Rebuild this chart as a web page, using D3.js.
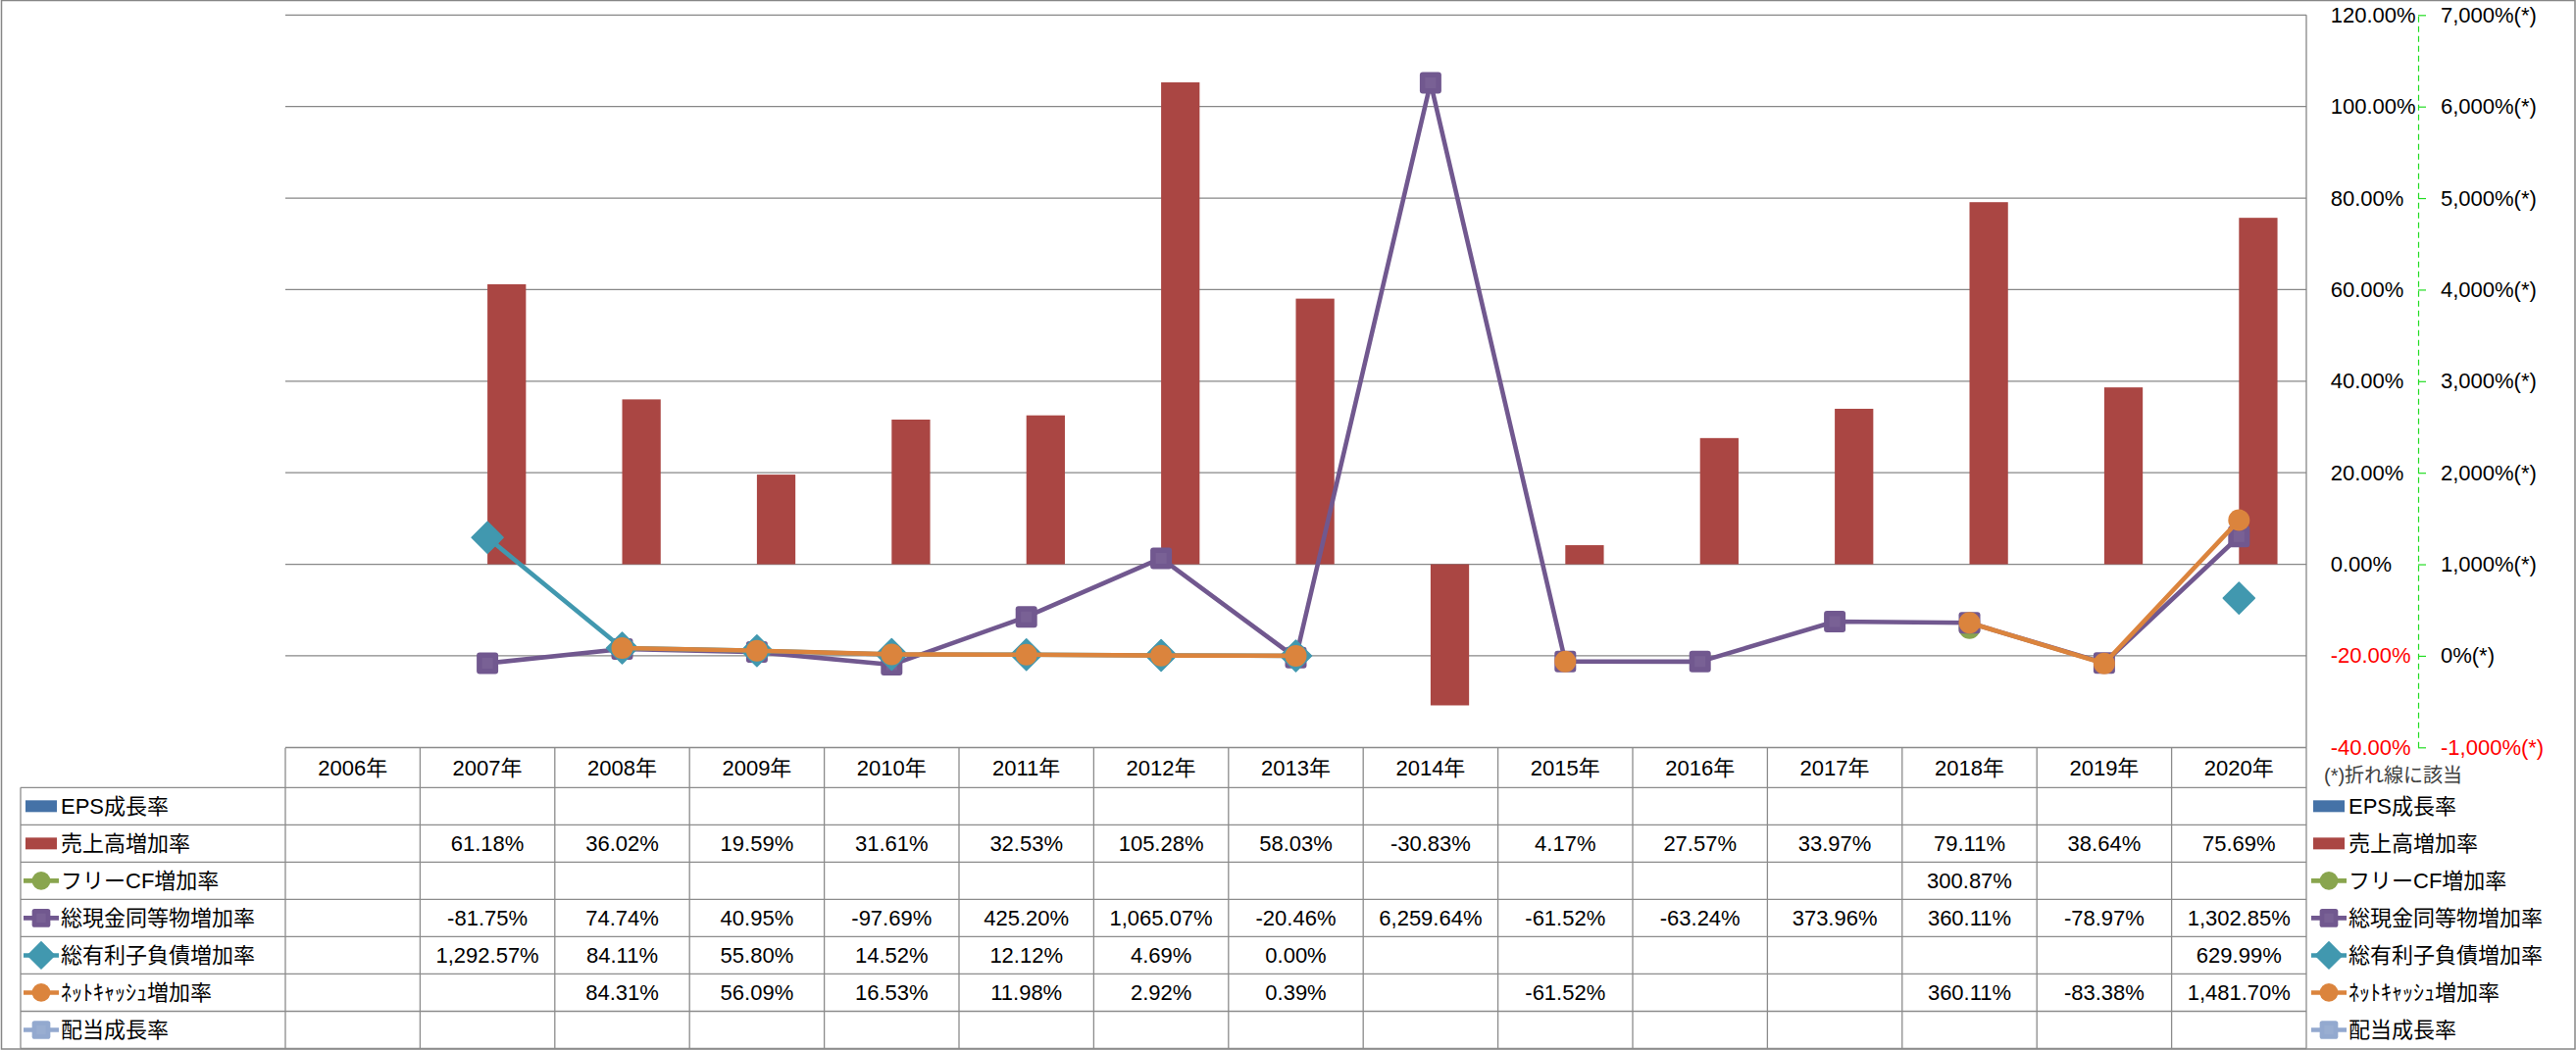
<!DOCTYPE html>
<html><head><meta charset="utf-8">
<script src="https://cdn.jsdelivr.net/npm/d3@7"></script>
<style>
html,body{margin:0;padding:0;background:#fff;}
text{font-family:"Liberation Sans","Noto Sans CJK JP",sans-serif;}
</style></head>
<body><svg id="c" width="2627" height="1071"></svg>
<script>
// ---- data ----
const years = ["2006年","2007年","2008年","2009年","2010年","2011年","2012年","2013年","2014年","2015年","2016年","2017年","2018年","2019年","2020年"];
const seriesNames = ["EPS成長率","売上高増加率","フリーCF増加率","総現金同等物増加率","総有利子負債増加率","ﾈｯﾄｷｬｯｼｭ増加率","配当成長率"];
const seriesColors = ["#4572A7","#AA4643","#89A54E","#71588F","#4198AF","#DB843D","#93A9CF"];
const seriesTypes = ["bar","bar","circle","square","diamond","circle","square"];
const epsGrowth      = [null,null,null,null,null,null,null,null,null,null,null,null,null,null,null];
const salesGrowth    = [null,61.18,36.02,19.59,31.61,32.53,105.28,58.03,-30.83,4.17,27.57,33.97,79.11,38.64,75.69];
const fcfGrowth      = [null,null,null,null,null,null,null,null,null,null,null,null,300.87,null,null];
const cashGrowth     = [null,-81.75,74.74,40.95,-97.69,425.20,1065.07,-20.46,6259.64,-61.52,-63.24,373.96,360.11,-78.97,1302.85];
const debtGrowth     = [null,1292.57,84.11,55.80,14.52,12.12,4.69,0.00,null,null,null,null,null,null,629.99];
const netCashGrowth  = [null,null,84.31,56.09,16.53,11.98,2.92,0.39,null,-61.52,null,null,360.11,-83.38,1481.70];
const dividendGrowth = [null,null,null,null,null,null,null,null,null,null,null,null,null,null,null];
const seriesValues = [epsGrowth,salesGrowth,fcfGrowth,cashGrowth,debtGrowth,netCashGrowth,dividendGrowth];
const leftTicks = [-40,-20,0,20,40,60,80,100,120];
const rightTicks = [-1000,0,1000,2000,3000,4000,5000,6000,7000];
const footnote = "(*)折れ線に該当";

// ---- layout ----
const svg = d3.select("#c");
const plotL = 291, plotR = 2352, yTop = 15.3, yBot = 762.3;
const headTop = 762.7, rowTop = 803.3, rowH = 38.03;
const x = d3.scaleBand().domain(years).range([plotL, plotR]).paddingInner(0).paddingOuter(0);
const bw = x.bandwidth();
const xs = d3.scaleBand().domain(["EPS成長率","売上高増加率"]).range([0, bw]).paddingInner(0).paddingOuter(0.75);
const y = d3.scaleLinear().domain([-40,120]).range([yBot, yTop]);
const y2 = d3.scaleLinear().domain([-1000,7000]).range([yBot, yTop]);
const gridColor = "#878787";
const hyph = s => s.replace(/\u2212/g,"-");
const fmtCell = v => hyph(d3.format(",.2f")(v)) + "%";

// outer frame
svg.append("rect").attr("x",1.5).attr("y",0.5).attr("width",2624.5).attr("height",1069.5)
  .attr("fill","none").attr("stroke",gridColor).attr("stroke-width",1.5);

// gridlines
svg.append("g").selectAll("line").data(leftTicks).join("line")
  .attr("x1",plotL).attr("x2",plotR).attr("y1",d=>y(d)).attr("y2",d=>y(d))
  .attr("stroke",gridColor).attr("stroke-width",1.3);
svg.append("line").attr("x1",plotR).attr("x2",plotR).attr("y1",yTop).attr("y2",yBot)
  .attr("stroke",gridColor).attr("stroke-width",1.3);

// bars
[0,1].forEach(si=>{
  svg.append("g").selectAll("rect")
    .data(years.map((yr,i)=>({yr,v:seriesValues[si][i]})).filter(d=>d.v!=null))
    .join("rect")
    .attr("x",d=>x(d.yr)+xs(seriesNames[si]))
    .attr("width",xs.bandwidth())
    .attr("y",d=>y(Math.max(0,d.v)))
    .attr("height",d=>Math.abs(y(d.v)-y(0)))
    .attr("fill",seriesColors[si]);
});

// markers
function drawMarker(g, type, cx, cy, color, scale=1){
  if(type==="circle"){
    g.append("circle").attr("cx",cx).attr("cy",cy).attr("r",11*scale).attr("fill",color);
  } else if(type==="square"){
    const s=22*scale;
    g.append("rect").attr("x",cx-s/2).attr("y",cy-s/2).attr("width",s).attr("height",s)
      .attr("rx",3*scale).attr("fill",color);
    g.append("rect").attr("x",cx-s/4).attr("y",cy-s/4).attr("width",s/2).attr("height",s/2)
      .attr("fill","#ffffff").attr("opacity",0.06);
  } else if(type==="diamond"){
    const r=16*scale;
    g.append("path").attr("d",`M${cx},${cy-r}L${cx+r},${cy}L${cx},${cy+r}L${cx-r},${cy}Z`)
      .attr("fill",color).attr("stroke",color).attr("stroke-width",1.5).attr("stroke-linejoin","round");
  }
}

// lines (secondary axis)
const lineGen = d3.line().defined(d=>d.v!=null).x(d=>x(d.yr)+bw/2).y(d=>y2(d.v));
for(let si=2; si<7; si++){
  const pts = years.map((yr,i)=>({yr,v:seriesValues[si][i]}));
  const g = svg.append("g");
  g.append("path").attr("d",lineGen(pts)).attr("fill","none")
    .attr("stroke",seriesColors[si]).attr("stroke-width",4.6).attr("stroke-linejoin","round");
  pts.filter(d=>d.v!=null).forEach(d=>drawMarker(g, seriesTypes[si], x(d.yr)+bw/2, y2(d.v), seriesColors[si]));
}

// primary axis labels (right)
const axL = svg.append("g").attr("transform",`translate(2376.7,0)`)
  .call(d3.axisRight(y).tickValues(leftTicks).tickSize(0).tickPadding(0).tickFormat(d=>hyph(d3.format(".2f")(d))+"%"));
axL.select(".domain").remove();
axL.selectAll("text").attr("font-size",22).attr("fill",d=>d<0?"#FF0000":"#000")
  .attr("font-family",'"Liberation Sans","Noto Sans CJK JP",sans-serif');

// secondary axis
const ax2 = svg.append("g").attr("transform",`translate(2466,0)`)
  .call(d3.axisRight(y2).tickValues(rightTicks).tickSize(8).tickSizeOuter(0).tickPadding(15).tickFormat(d=>hyph(d3.format(",")(d))+"%(*)"));
ax2.select(".domain").attr("stroke","#22DD22").attr("stroke-dasharray","6,4").attr("stroke-width",1.2);
ax2.selectAll(".tick line").attr("stroke","#22DD22").attr("stroke-width",1.2);
ax2.selectAll("text").attr("font-size",22).attr("fill",d=>d<0?"#FF0000":"#000")
  .attr("font-family",'"Liberation Sans","Noto Sans CJK JP",sans-serif');

// footnote
svg.append("text").attr("x",2370).attr("y",791).attr("dy","0.35em").attr("font-size",20)
  .attr("fill","#404040").text(footnote);

// ---- data table ----
const tbl = svg.append("g");
const tColor = "#8c8c8c";
const tableBottom = rowTop + rowH*seriesNames.length;
tbl.append("line").attr("x1",plotL).attr("x2",plotR).attr("y1",headTop).attr("y2",headTop).attr("stroke",tColor).attr("stroke-width",1.3);
d3.range(seriesNames.length+1).forEach(i=>{
  tbl.append("line").attr("x1",21).attr("x2",plotR).attr("y1",rowTop+i*rowH).attr("y2",rowTop+i*rowH)
    .attr("stroke",tColor).attr("stroke-width",1.3);
});
years.forEach(yr=>{
  tbl.append("line").attr("x1",x(yr)).attr("x2",x(yr)).attr("y1",headTop).attr("y2",tableBottom)
    .attr("stroke",tColor).attr("stroke-width",1.3);
});
tbl.append("line").attr("x1",plotR).attr("x2",plotR).attr("y1",yBot).attr("y2",tableBottom).attr("stroke",tColor).attr("stroke-width",1.3);
tbl.append("line").attr("x1",21).attr("x2",21).attr("y1",rowTop).attr("y2",tableBottom).attr("stroke",tColor).attr("stroke-width",1.3);
tbl.selectAll("text.yr").data(years).join("text").attr("class","yr")
  .attr("x",d=>x(d)+bw/2).attr("y",(headTop+rowTop)/2).attr("dy","0.35em")
  .attr("text-anchor","middle").attr("font-size",22).text(d=>d);
function legendKey(g, si, x0){
  if(seriesTypes[si]==="bar"){
    g.append("rect").attr("x",x0+2).attr("y",-6).attr("width",32).attr("height",12).attr("fill",seriesColors[si]);
  } else {
    g.append("line").attr("x1",x0).attr("x2",x0+36).attr("y1",0).attr("y2",0)
      .attr("stroke",seriesColors[si]).attr("stroke-width",4.6);
    drawMarker(g, seriesTypes[si], x0+18, 0, seriesColors[si], 0.85);
  }
}
seriesNames.forEach((name,si)=>{
  const cy = rowTop + si*rowH + rowH/2;
  const gl = tbl.append("g").attr("transform",`translate(0,${cy})`);
  legendKey(gl, si, 24);
  gl.append("text").attr("x",62).attr("dy","0.35em").attr("font-size",22).text(name);
  const gr = tbl.append("g").attr("transform",`translate(0,${cy})`);
  legendKey(gr, si, 2357);
  gr.append("text").attr("x",2395).attr("dy","0.35em").attr("font-size",22).text(name);
  years.forEach((yr,i)=>{
    const v = seriesValues[si][i];
    if(v==null) return;
    tbl.append("text").attr("x",x(yr)+bw/2).attr("y",cy).attr("dy","0.35em")
      .attr("text-anchor","middle").attr("font-size",22).text(fmtCell(v));
  });
});
</script></body></html>
